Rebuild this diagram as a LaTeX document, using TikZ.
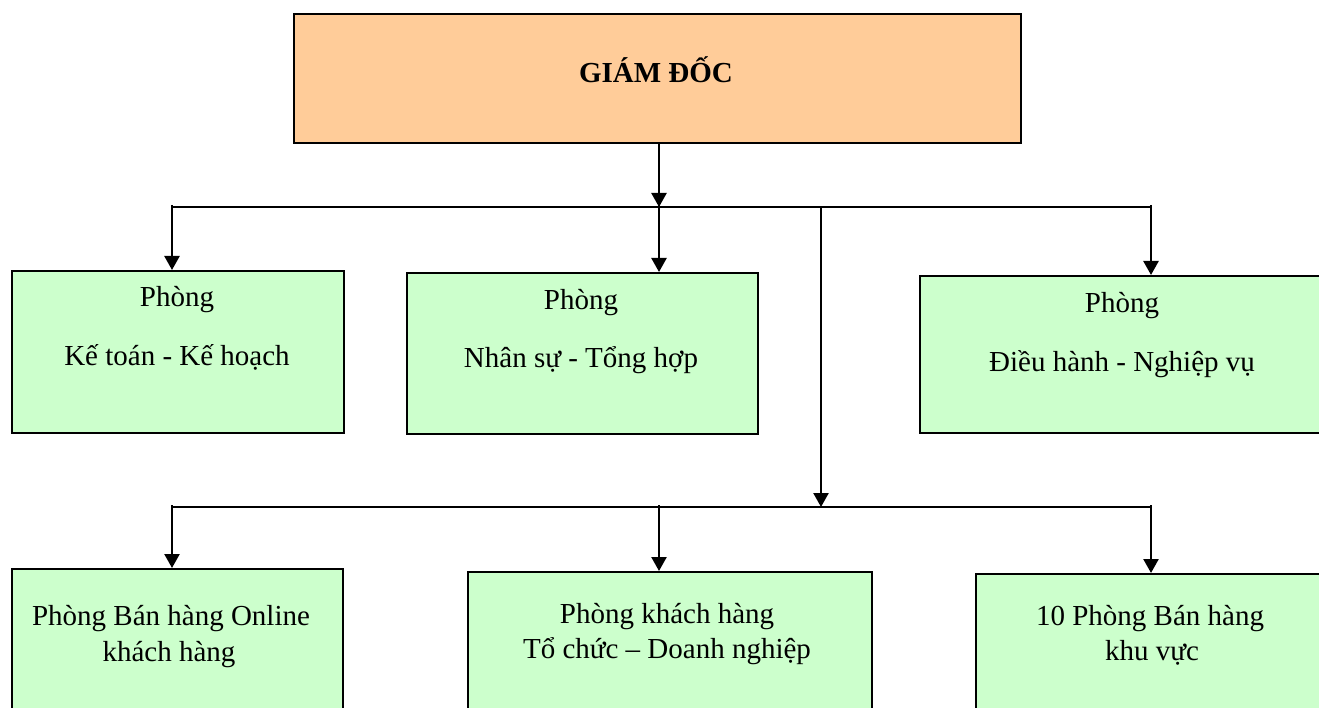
\documentclass[tikz,border=0pt]{standalone}
\usepackage{fontspec}
\setmainfont{Liberation Serif}
\usetikzlibrary{arrows.meta}
\definecolor{peach}{HTML}{FFCC99}
\definecolor{mint}{HTML}{CCFFCC}
\tikzset{
  boxbase/.style={draw=black, line width=2pt, rectangle, anchor=north west, inner sep=0pt},
  topbox/.style={boxbase, fill=peach},
  gbox/.style={boxbase, fill=mint},
  txt/.style={anchor=base, inner sep=0pt, font=\fontsize{29}{34}\selectfont},
  bus/.style={line width=2pt},
  conn/.style={line width=2.4pt, -{Triangle[width=15pt,length=14pt]}},
}
\begin{document}
\begin{tikzpicture}[x=1pt,y=-1pt]
\useasboundingbox (0,0) rectangle (1319,708);
\clip (0,0) rectangle (1319,708);
\fill[white] (0,0) rectangle (1319,708);

% top box
\node[topbox, minimum width=727pt, minimum height=129pt] (gd) at (293,13) {};
\node[txt, font=\fontsize{29}{34}\selectfont\bfseries] (gdt) at (656,83) {GIÁM ĐỐC};

% first-level boxes
\node[gbox, minimum width=332pt, minimum height=162pt] (k1) at (11,270) {};
\node[txt] (k1a) at (177,307) {Phòng};
\node[txt] (k1b) at (177,365) {Kế toán - Kế hoạch};

\node[gbox, minimum width=351pt, minimum height=161pt] (k2) at (406,272) {};
\node[txt] (k2a) at (581,310) {Phòng};
\node[txt] (k2b) at (581,367) {Nhân sự - Tổng hợp};

\node[gbox, minimum width=412pt, minimum height=157pt] (k3) at (919,275) {};
\node[txt] (k3a) at (1122,313) {Phòng};
\node[txt] (k3b) at (1122,371) {Điều hành - Nghiệp vụ};

% second-level boxes
\node[gbox, minimum width=331pt, minimum height=160pt] (p1) at (11,568) {};
\node[txt] (p1a) at (171,625) {Phòng Bán hàng Online};
\node[txt] (p1b) at (169,661) {khách hàng};

\node[gbox, minimum width=404pt, minimum height=160pt] (p2) at (467,571) {};
\node[txt] (p2a) at (667,623) {Phòng khách hàng};
\node[txt] (p2b) at (667,658) {Tổ chức – Doanh nghiệp};

\node[gbox, minimum width=360pt, minimum height=160pt] (p3) at (975,573) {};
\node[txt] (p3a) at (1150,625) {10 Phòng Bán hàng};
\node[txt] (p3b) at (1152,660) {khu vực};

% buses
\coordinate (u1) at (172,207);
\coordinate (u2) at (659,207);
\coordinate (um) at (821,207);
\coordinate (u3) at (1151,207);
\coordinate (l1) at (172,507);
\coordinate (l2) at (659,507);
\coordinate (l3) at (1151,507);

\draw[bus] (u1) -- (u3);
\draw[bus] (l1) -- (l3);

% connectors
\draw[conn] (gd.south -| u2) -- (u2);
\draw[conn] ([yshift=2pt]u1) -- (u1 |- k1.north);
\draw[conn] ([yshift=2pt]u2) -- (u2 |- k2.north);
\draw[conn] ([yshift=2pt]u3) -- (u3 |- k3.north);
\draw[conn] (um) -- (um |- l1);
\draw[conn] ([yshift=2pt]l1) -- (l1 |- p1.north);
\draw[conn] ([yshift=2pt]l2) -- (l2 |- p2.north);
\draw[conn] ([yshift=2pt]l3) -- (l3 |- p3.north);
\end{tikzpicture}
\end{document}
